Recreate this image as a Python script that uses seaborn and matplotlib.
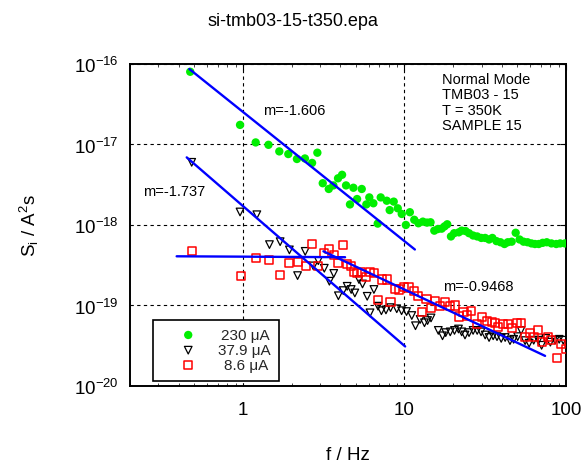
import numpy as np
import pandas as pd
import matplotlib
matplotlib.use("Agg")
import matplotlib.pyplot as plt
import seaborn as sns
from matplotlib.ticker import LogLocator, NullFormatter, FixedLocator

# ---------------- data ----------------
f_230 = [0.472, 0.96, 1.2, 1.44, 1.68, 1.91, 2.16, 2.42, 2.68, 2.89, 3.12, 3.40, 3.63, 3.88, 4.11,
         4.35, 4.6, 4.83, 5.09, 5.44, 5.81, 6.06, 6.42, 6.83, 7.13, 7.77, 8.1, 8.58, 9.09, 9.62,
         10.2, 10.8, 11.5, 12.2, 13.0, 13.8, 14.5, 15.3, 16.1, 17.0, 17.7, 18.4, 19.4, 20.3, 21.7,
         22.6, 23.9, 25.1, 26.6, 28.2, 29.9, 31.6, 33.4, 35.0, 37.1, 39.3, 41.6, 43.6, 46.1, 48.8,
         51.6, 54.6, 57.8, 61.1, 64.2, 67.8, 71.7, 76.0, 81.2, 87.0, 92.0, 98.5]
s_230 = [8.0e-17, 1.75e-17, 1.06e-17, 9.9e-18, 8.2e-18, 7.6e-18, 6.6e-18, 6.7e-18, 5.9e-18, 7.9e-18,
         3.3e-18, 2.8e-18, 3.1e-18, 3.8e-18, 4.2e-18, 3.1e-18, 1.8e-18, 2.9e-18, 2.1e-18, 2.8e-18,
         1.8e-18, 2.2e-18, 1.86e-18, 1.04e-18, 2.2e-18, 2.0e-18, 1.53e-18, 1.95e-18, 1.61e-18, 1.37e-18,
         1.0e-18, 1.44e-18, 1.16e-18, 1.05e-18, 1.10e-18, 1.07e-18, 1.08e-18, 8.5e-19, 8.9e-19, 9.0e-19,
         9.6e-19, 1.02e-18, 7.2e-19, 7.9e-19, 8.1e-19, 8.5e-19, 8.4e-19, 7.9e-19, 7.4e-19, 7.2e-19,
         6.9e-19, 6.9e-19, 6.6e-19, 6.9e-19, 6.3e-19, 6.1e-19, 5.8e-19, 6.1e-19, 6.2e-19, 8.0e-19,
         6.6e-19, 6.2e-19, 6.1e-19, 5.9e-19, 5.8e-19, 5.8e-19, 6.0e-19, 6.1e-19, 5.9e-19, 5.8e-19,
         5.9e-19, 5.9e-19]

f_379 = [0.482, 0.96, 1.22, 1.46, 1.70, 1.94, 2.18, 2.43, 2.73, 2.93, 3.19, 3.43, 3.65, 3.90, 4.18,
         4.42, 4.68, 4.93, 5.23, 5.5, 5.88, 6.12, 6.47, 6.86, 7.2, 7.68, 8.2, 8.96, 9.6, 10.3,
         11.1, 11.7, 12.5, 13.3, 13.9, 14.6, 16.2, 17.2, 18.0, 19.2, 20.4, 21.6, 22.6, 23.7, 25.1,
         26.6, 28.2, 29.8, 31.6, 33.4, 35.4, 37.4, 39.7, 42.0, 45.0, 47.4, 50.2, 52.7, 55.8, 59.1,
         63.1, 67.4, 70.6, 74.9, 80.0, 85.6, 90.7, 96.1]
s_379 = [6.0e-18, 1.45e-18, 1.34e-18, 5.7e-19, 6.2e-19, 4.9e-19, 2.35e-19, 4.7e-19, 3.1e-19, 3.6e-19,
         2.9e-19, 2.0e-19, 2.5e-19, 1.32e-19, 1.53e-19, 1.73e-19, 1.58e-19, 1.43e-19, 2.1e-19, 1.85e-19,
         1.30e-19, 8.1e-20, 1.58e-19, 9.8e-20, 8.6e-20, 8.8e-20, 9.4e-20, 9.1e-20, 8.6e-20, 8.4e-20,
         7.5e-20, 5.6e-20, 6.7e-20, 6.1e-20, 6.5e-20, 7.0e-20, 4.9e-20, 4.2e-20, 4.6e-20, 4.7e-20,
         4.9e-20, 5.1e-20, 4.7e-20, 4.3e-20, 4.6e-20, 4.9e-20, 4.9e-20, 4.7e-20, 4.3e-20, 4.0e-20,
         4.2e-20, 4.1e-20, 3.9e-20, 4.0e-20, 3.66e-20, 3.8e-20, 4.1e-20, 4.9e-20, 3.66e-20, 3.4e-20,
         3.7e-20, 3.7e-20, 3.2e-20, 3.9e-20, 3.5e-20, 3.7e-20, 3.8e-20, 3.7e-20]

f_86 = [0.482, 0.97, 1.21, 1.45, 1.70, 1.94, 2.18, 2.46, 2.69, 2.92, 3.18, 3.41, 3.66, 3.90, 4.15,
        4.40, 4.65, 4.90, 5.1, 5.4, 5.8, 6.1, 6.5, 6.9, 7.25, 7.8, 8.2, 8.7, 9.3, 9.9,
        10.6, 11.5, 12.2, 12.9, 13.7, 14.6, 15.4, 16.6, 17.8, 19.2, 20.6, 21.8, 23.2, 24.4, 25.9,
        28.0, 30.1, 32.3, 34.6, 36.3, 38.0, 40.9, 43.9, 46.5, 49.5, 52.7, 55.8, 60.0, 63.7, 66.7,
        71.4, 76.9, 81.2, 87.6, 93.6, 99.9]
s_86 = [4.8e-19, 2.3e-19, 3.9e-19, 3.7e-19, 2.4e-19, 3.4e-19, 3.5e-19, 3.07e-19, 5.8e-19, 3.1e-19,
        4.45e-19, 5.0e-19, 4.2e-19, 3.4e-19, 5.6e-19, 3.3e-19, 3.07e-19, 2.6e-19, 2.55e-19, 2.6e-19,
        2.24e-19, 2.6e-19, 2.55e-19, 1.18e-19, 2.1e-19, 2.1e-19, 1.11e-19, 1.6e-19, 1.58e-19, 1.7e-19,
        1.67e-19, 1.5e-19, 1.32e-19, 8.2e-20, 1.2e-19, 9.2e-20, 1.15e-19, 9.8e-20, 1.1e-19, 9.8e-20,
        1.0e-19, 7.3e-20, 8.2e-20, 7.5e-20, 8.6e-20, 5.9e-20, 7.1e-20, 6.4e-20, 6.3e-20, 6.0e-20,
        5.4e-20, 5.9e-20, 5.9e-20, 5.3e-20, 6.0e-20, 6.1e-20, 4.1e-20, 4.6e-20, 4.1e-20, 4.9e-20,
        3.55e-20, 4.1e-20, 3.7e-20, 2.2e-20, 3.3e-20, 2.9e-20]

series_labels = ["230 \u03bcA", "37.9 \u03bcA", "8.6 \u03bcA"]

# power-law fits: S = A * f**m over [f_start, f_end]
fit_amp = [2.54e-17, 1.72e-18, 4.04e-19, 1.395e-18]
fit_slope = [-1.606, -1.737, -0.011, -0.9468]
fit_fstart = [0.466, 0.449, 0.389, 3.15]
fit_fend = [11.6, 10.1, 4.29, 74.2]
fit_texts = ["m=-1.606", "m=-1.737", None, "m=-0.9468"]

x_ticks = [1, 10, 100]
x_ticklabels = ["1", "10", "100"]
y_ticks = [1e-20, 1e-19, 1e-18, 1e-17, 1e-16]

title = "si-tmb03-15-t350.epa"
info_text = "Normal Mode\nTMB03 - 15\nT = 350K\nSAMPLE 15"

# ---------------- style ----------------
sns.set_theme(style="white")
plt.rcParams["font.family"] = ["Liberation Sans", "DejaVu Sans"]
plt.rcParams["mathtext.default"] = "regular"
plt.rcParams["axes.unicode_minus"] = False

DPI = 100
fig = plt.figure(figsize=(5.86, 4.64), dpi=DPI)
ax = fig.add_axes([0.2218, 0.166, 0.7441, 0.694])

df230 = pd.DataFrame({"f": f_230, "S": s_230})
df379 = pd.DataFrame({"f": f_379, "S": s_379})
df86 = pd.DataFrame({"f": f_86, "S": s_86})

sns.scatterplot(data=df230, x="f", y="S", ax=ax, marker="o", s=36, color="#00ee00",
                edgecolor="none", label=series_labels[0], zorder=3)
sns.scatterplot(data=df379, x="f", y="S", ax=ax, marker="v", s=30, facecolor="none",
                edgecolor="black", linewidth=0.9, label=series_labels[1], zorder=3)
sns.scatterplot(data=df86, x="f", y="S", ax=ax, marker="s", s=34, facecolor="none",
                edgecolor="#ff0000", linewidth=1.1, label=series_labels[2], zorder=3)

for A, m, f0, f1 in zip(fit_amp, fit_slope, fit_fstart, fit_fend):
    ff = np.array([f0, f1])
    sns.lineplot(x=ff, y=A * ff ** m, ax=ax, color="#0000ff", linewidth=1.7, zorder=4,
                 legend=False)

ax.set_xscale("log")
ax.set_yscale("log")
ax.set_xlim(0.2, 100)
ax.set_ylim(1e-20, 1e-16)

ax.set_xticks(x_ticks)
ax.set_xticklabels(x_ticklabels)
ax.xaxis.set_minor_locator(LogLocator(base=10, subs=np.arange(2, 10), numticks=20))
ax.xaxis.set_minor_formatter(NullFormatter())
ax.yaxis.set_major_locator(FixedLocator(y_ticks))
ax.yaxis.set_minor_locator(FixedLocator([]))

ax.tick_params(axis="both", which="major", direction="in", length=4, width=0.8,
               top=True, right=True, labelsize=13.5, colors="black")
ax.tick_params(axis="x", which="major", pad=11)
ax.tick_params(axis="y", which="major", pad=8)
ax.tick_params(axis="x", which="minor", direction="in", length=2.5, width=0.6,
               top=True, bottom=True)

for sp in ax.spines.values():
    sp.set_linewidth(1.4)
    sp.set_color("black")

ax.grid(True, which="major", color="black", linestyle=(0, (3, 3)), linewidth=0.8)

ax.set_xlabel("f / Hz", fontsize=13.5, labelpad=20, color="black")
ax.set_ylabel("S$_i$ / A$^2$s", fontsize=13.5, labelpad=24, color="black")
fig.suptitle(title, x=0.5, y=0.972, fontsize=13, color="black")

text_pos = [(0.305, 0.857), (0.030, 0.606), None, (0.718, 0.311)]
for t, p in zip(fit_texts, text_pos):
    if t:
        ax.text(p[0], p[1], t, transform=ax.transAxes, fontsize=10.5, va="center",
                ha="left", color="black")

ax.text(0.716, 0.975, info_text, transform=ax.transAxes, fontsize=10.5, va="top",
        ha="left", linespacing=1.12, color="black")

leg = ax.legend(loc="lower left", bbox_to_anchor=(0.053, 0.016), fontsize=11,
                frameon=True, fancybox=False, edgecolor="black", framealpha=1,
                handletextpad=0.2, labelspacing=0.08, borderpad=0.55, handlelength=3.5,
                borderaxespad=0)
leg.get_frame().set_linewidth(1.2)

# right-align the legend labels (shift shorter labels right)
fig.canvas.draw()
renderer = fig.canvas.get_renderer()
widths = [t.get_window_extent(renderer).width for t in leg.get_texts()]
wmax = max(widths)
for t, wi in zip(leg.get_texts(), widths):
    t.set_position(((wmax - wi) * 72.0 / DPI, 0))

fig.savefig("out.png", dpi=DPI)
